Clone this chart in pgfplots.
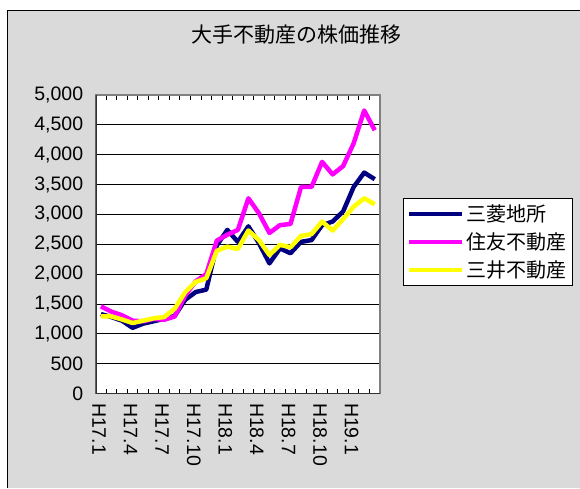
\documentclass[border=0pt]{standalone}
\usepackage{pgfplots}
\pgfplotsset{compat=1.18}
\usepackage{pgfplotstable}
\usepackage{fontspec}
\setmainfont{Liberation Sans}
\newfontfamily\cjk{Noto Sans CJK JP}
\definecolor{mnavy}{RGB}{0,0,128}
\definecolor{mmag}{RGB}{255,0,255}
\definecolor{myel}{RGB}{255,255,0}
\definecolor{marble}{RGB}{218,218,218}

\pgfplotstableread{
i mitsubishi sumitomo mitsui
0 1330 1460 1290
1 1280 1370 1290
2 1220 1310 1240
3 1100 1220 1180
4 1170 1210 1220
5 1210 1250 1260
6 1250 1235 1280
7 1300 1290 1420
8 1570 1640 1700
9 1700 1880 1870
10 1740 2000 1930
11 2480 2560 2390
12 2740 2660 2460
13 2540 2740 2420
14 2800 3270 2730
15 2520 3020 2570
16 2180 2690 2320
17 2430 2820 2490
18 2350 2840 2450
19 2540 3460 2640
20 2570 3460 2670
21 2820 3880 2880
22 2880 3670 2730
23 3050 3810 2920
24 3460 4190 3130
25 3700 4740 3270
26 3590 4410 3170
}\stockdata

\begin{document}
\begin{tikzpicture}
\fill[white] (0pt,0pt) rectangle (580pt,488pt);
\fill[marble] (7pt,0pt) rectangle (580pt,477pt);
\draw[black, line width=1pt] (7pt,0pt) -- (7pt,477pt) -- (580pt,477pt);
\begin{axis}[
  at={(95.7pt,94.5pt)}, anchor=south west,
  scale only axis, width=284.3pt, height=298.5pt,
  xmin=-0.5, xmax=26.5, ymin=0, ymax=5000,
  axis background/.style={fill=white},
  axis line style={draw=black!50, line width=1.8pt},
  xtick={0,3,...,24},
  xticklabels={H17.1,H17.4,H17.7,H17.10,H18.1,H18.4,H18.7,H18.10,H19.1},
  minor xtick={-0.5,0.5,...,26.5},
  major tick length=0pt,
  minor tick length=5pt,
  tick align=inside,
  minor tick style={black, line width=0.9pt},
  ytick={0,500,...,5000},
  ymajorgrids,
  grid style={black, line width=0.9pt},
  /pgf/number format/assume math mode=true,
  /pgf/number format/1000 sep={,},
  scaled y ticks=false,
  yticklabel style={font=\fontsize{19.5}{22}\selectfont, xshift=-9pt},
  xticklabel style={font=\fontsize{19.5}{22}\selectfont, rotate=-90, anchor=west, yshift=-2pt, xshift=6pt},
  title={\cjk 大手不動産の株価推移},
  title style={at={(0.708,1.184)}, anchor=center, font=\fontsize{21}{25}\selectfont},
  legend style={at={(1.081,0.655)}, anchor=north west, draw=black, line width=0.8pt, fill=white,
    font=\cjk\fontsize{20}{20}\selectfont, inner xsep=4pt, inner ysep=4pt, row sep=6pt,
    nodes={inner sep=2pt}},
  legend cell align=left,
  legend image code/.code={\draw[#1, line width=4pt] (0pt,0pt) -- (53pt,0pt);},
]
\addplot[mnavy, line width=4.5pt, line join=round] table[x=i, y=mitsubishi] {\stockdata};
\addplot[mmag, line width=4.5pt, line join=round] table[x=i, y=sumitomo] {\stockdata};
\addplot[myel, line width=4.5pt, line join=round] table[x=i, y=mitsui] {\stockdata};
\legend{三菱地所,住友不動産,三井不動産}
\draw[black!80, line width=1.8pt] (rel axis cs:0,1) -- (rel axis cs:0,0) -- (rel axis cs:1,0);
\end{axis}
\pgfresetboundingbox
\path (0pt,0pt) rectangle (580pt,488pt);
\end{tikzpicture}
\end{document}
